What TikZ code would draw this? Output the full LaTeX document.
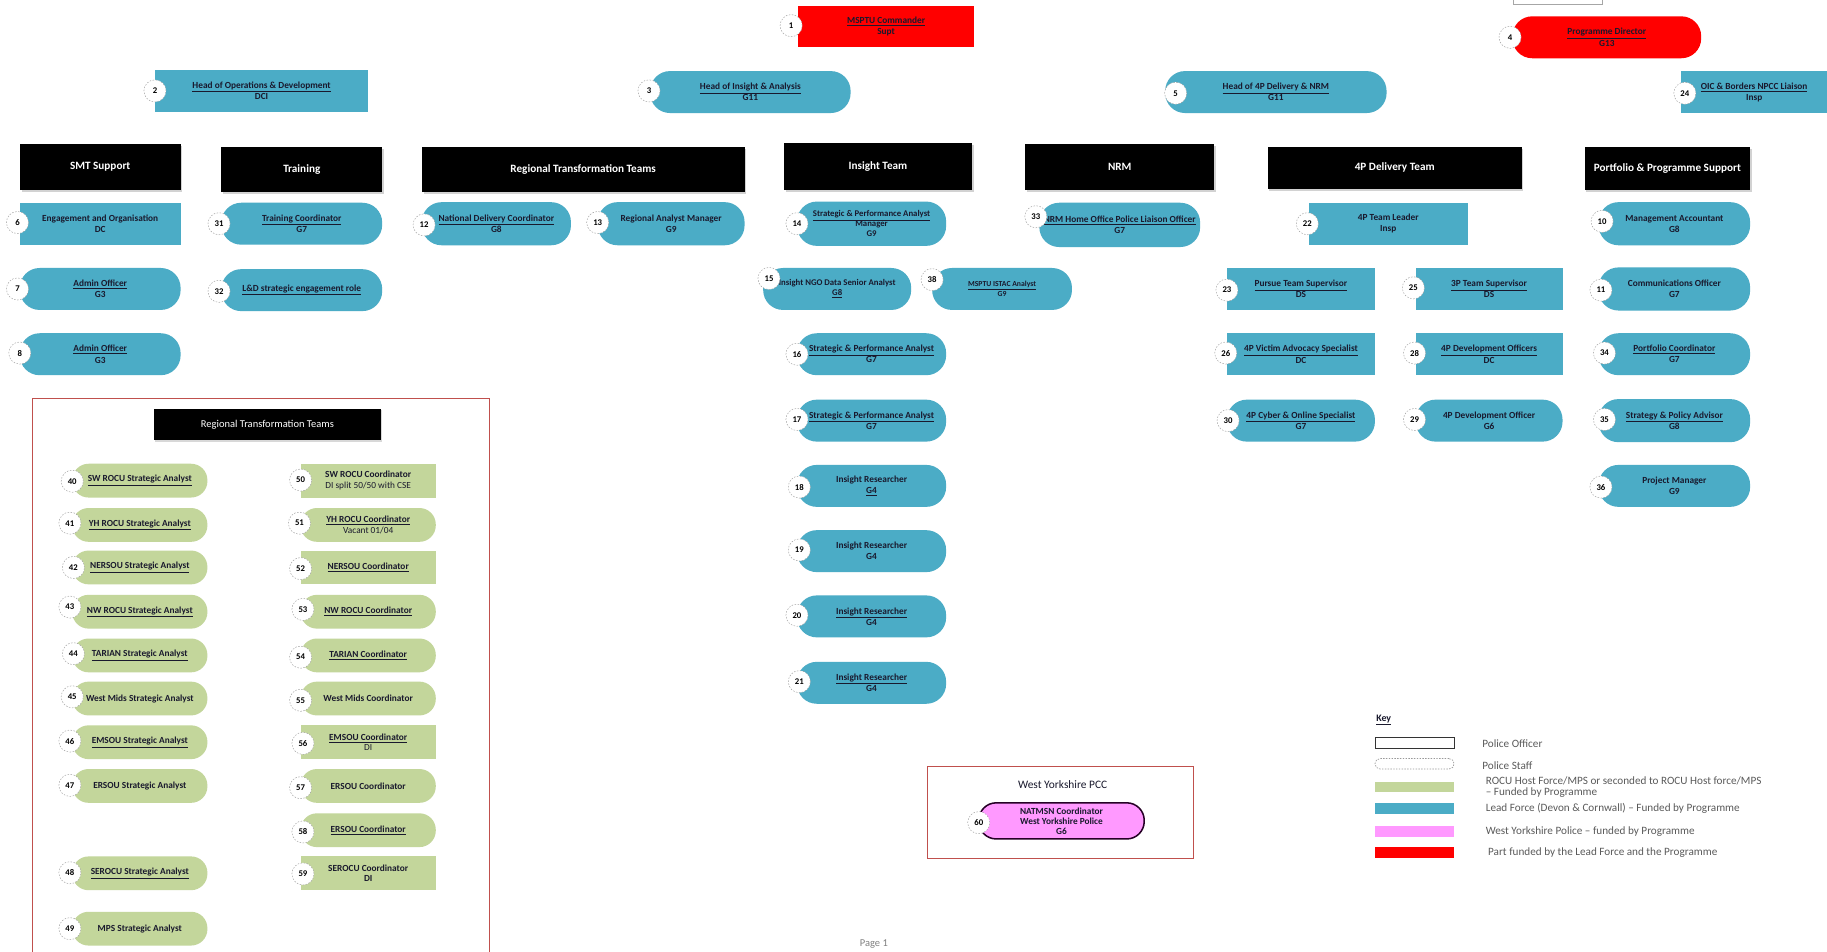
\documentclass[tikz,border=0pt]{standalone}
\usepackage{fontspec}
\setmainfont{Carlito}
\usetikzlibrary{shadows}
\definecolor{leadblue}{RGB}{75,172,198}
\definecolor{rocugreen}{RGB}{195,214,155}
\definecolor{wypink}{RGB}{255,153,255}
\definecolor{boxred}{RGB}{192,80,77}
\definecolor{ntxt}{RGB}{25,25,45}
\definecolor{keytxt}{RGB}{90,90,90}
\newcommand{\nfont}{\bfseries\fontsize{8}{9.5}\selectfont}
\newcommand{\sfontA}{\bfseries\fontsize{7.5}{8.5}\selectfont}
\newcommand{\sfontB}{\bfseries\fontsize{6.6}{8.5}\selectfont}
\newcommand{\gfont}{\bfseries\fontsize{8}{9}\selectfont}
\newcommand{\hfont}{\bfseries\fontsize{9.6}{11}\selectfont}
\newcommand{\numfont}{\bfseries\fontsize{7.5}{8}\selectfont}
\newcommand{\kfont}{\fontsize{9.6}{11}\selectfont}
\newcommand{\ul}[1]{\underline{#1}}
\begin{document}
\begin{tikzpicture}[x=1pt,y=-1pt,
  nd/.style={inner sep=1pt, align=center, text=ntxt, font=\nfont},
  sz/.style 2 args={minimum width=#1pt, minimum height=#2pt},
  po/.style={nd, rectangle},
  ps/.style={nd, rectangle, rounded corners=17pt},
  gpo/.style={nd, rectangle, font=\gfont, fill=rocugreen, minimum width=116pt, minimum height=29pt},
  gps/.style={gpo, rounded corners=14pt},
  lf/.style={fill=leadblue},
  pf/.style={fill=red},
  hdr/.style={rectangle, fill=black, text=white, font=\hfont, inner sep=1pt,
    drop shadow={shadow xshift=1.5pt, shadow yshift=-1.5pt, opacity=0.35}},
  num/.style={circle, fill=white, draw=gray!75, dash pattern=on 1.3pt off 1.3pt,
    minimum size=19pt, inner sep=0pt, font=\numfont, text=black},
  frame/.style={draw=boxred, line width=1.1pt},
  keybox/.style={minimum width=68pt, minimum height=9pt, inner sep=0pt},
  keylab/.style={anchor=west, font=\kfont, text=keytxt, inner sep=0pt, align=left}
]
\useasboundingbox (0,0) rectangle (1568,817);
\fill[white] (0,0) rectangle (1568,817);

% stray box at top edge
\draw[gray!70, line width=0.6pt] (1299,-10) rectangle (1375,4);

% ---------- top level ----------
\node[po, pf, sz={151}{35}] (n1) at (760.5,22.5) {\ul{MSPTU Commander}\\Supt};
\node[po, lf, sz={183}{36}] (n2) at (224.5,78) {\ul{Head of Operations \& Development}\\DCI};
\node[ps, lf, sz={172}{36}] (n3) at (644,79) {\ul{Head of Insight \& Analysis}\\G11};
\node[ps, pf, sz={162}{36}] (n4) at (1379,32) {\ul{Programme Director}\\G13};
\node[ps, lf, sz={190}{36}] (n5) at (1095,79) {\ul{Head of 4P Delivery \& NRM}\\G11};
\node[po, lf, sz={125}{36}] (n24) at (1505.5,79) {\ul{OIC \& Borders NPCC Liaison}\\Insp};

% ---------- headers ----------
\node[hdr, sz={138}{39}] (hSMT) at (86,143.5) {SMT Support};
\node[hdr, sz={138}{39}] (hTR) at (259,145.5) {Training};
\node[hdr, sz={277}{39}] (hRTT) at (500.5,145.5) {Regional Transformation Teams};
\node[hdr, sz={161}{40}] (hIT) at (753.5,143) {Insight Team};
\node[hdr, sz={162}{39}] (hNRM) at (961,143.5) {NRM};
\node[hdr, sz={218}{36}] (h4P) at (1197,144) {4P Delivery Team};
\node[hdr, sz={142}{37}] (hPP) at (1431,144.5) {Portfolio \& Programme Support};

% ---------- SMT support ----------
\node[po, lf, sz={138}{36}] (n6) at (86,192) {Engagement and Organisation\\DC};
\node[ps, lf, sz={138}{36}] (n7) at (86,248) {\ul{Admin Officer}\\G3};
\node[ps, lf, sz={138}{36}] (n8) at (86,304) {\ul{Admin Officer}\\G3};

% ---------- Training ----------
\node[ps, lf, sz={138}{36}] (n31) at (259,192) {\ul{Training Coordinator}\\G7};
\node[ps, lf, sz={138}{36}] (n32) at (259,249) {\ul{L\&D strategic engagement role}};

% ---------- Regional Transformation Teams ----------
\node[ps, lf, sz={128}{37}] (n12) at (426,192) {\ul{National Delivery Coordinator}\\G8};
\node[ps, lf, sz={126}{37}] (n13) at (576,192) {Regional Analyst Manager\\G9};

% ---------- Insight Team ----------
\node[ps, lf, sz={128}{38}, font=\sfontA] (n14) at (748,192) {\ul{Strategic \& Performance Analyst}\\Manager\\G9};
\node[ps, lf, sz={127}{36}, font=\sfontA] (n15) at (718.5,248) {Insight NGO Data Senior Analyst\\\ul{G8}};
\node[ps, lf, sz={120}{36}, font=\sfontB] (n38) at (860,248) {\ul{MSPTU ISTAC Analyst}\\G9};
\node[ps, lf, sz={128}{36}] (n16) at (748,304) {\ul{Strategic \& Performance Analyst}\\G7};
\node[ps, lf, sz={128}{36}] (n17) at (748,361) {\ul{Strategic \& Performance Analyst}\\G7};
\node[ps, lf, sz={128}{36}] (n18) at (748,417) {Insight Researcher\\\ul{G4}};
\node[ps, lf, sz={128}{36}] (n19) at (748,473) {Insight Researcher\\G4};
\node[ps, lf, sz={128}{36}] (n20) at (748,529) {\ul{Insight Researcher}\\G4};
\node[ps, lf, sz={128}{36}] (n21) at (748,586) {\ul{Insight Researcher}\\G4};

% ---------- NRM ----------
\node[ps, lf, sz={138}{38}] (n33) at (961,193) {\ul{NRM Home Office Police Liaison Officer}\\G7};

% ---------- 4P Delivery ----------
\node[po, lf, sz={137}{36}] (n22) at (1191.5,192) {4P Team Leader\\Insp};
\node[po, lf, sz={127}{36}] (n23) at (1116.5,248) {\ul{Pursue Team Supervisor}\\DS};
\node[po, lf, sz={126}{36}] (n25) at (1278,248) {\ul{3P Team Supervisor}\\DS};
\node[po, lf, sz={127}{36}] (n26) at (1116.5,304) {\ul{4P Victim Advocacy Specialist}\\DC};
\node[po, lf, sz={126}{36}] (n28) at (1278,304) {\ul{4P Development Officers}\\DC};
\node[ps, lf, sz={127}{36}] (n30) at (1116.5,361) {\ul{4P Cyber \& Online Specialist}\\G7};
\node[ps, lf, sz={126}{36}] (n29) at (1278,361) {4P Development Officer\\G6};

% ---------- Portfolio & Programme ----------
\node[ps, lf, sz={130}{37}] (n10) at (1437,192) {Management Accountant\\G8};
\node[ps, lf, sz={130}{37}] (n11) at (1437,248) {Communications Officer\\G7};
\node[ps, lf, sz={130}{36}] (n34) at (1437,304) {\ul{Portfolio Coordinator}\\G7};
\node[ps, lf, sz={130}{37}] (n35) at (1437,361) {\ul{Strategy \& Policy Advisor}\\G8};
\node[ps, lf, sz={130}{36}] (n36) at (1437,417) {Project Manager\\G9};

% ---------- regional box ----------
\draw[frame] (28,830) -- (28,342) -- (420,342) -- (420,830);
\node[rectangle, fill=black, text=white, font=\fontsize{9}{10}\selectfont,
  sz={195}{27}, inner sep=1pt,
  drop shadow={shadow xshift=1pt, shadow yshift=-1pt, opacity=0.3}] (hRTT2) at (229.5,364.5) {Regional Transformation Teams};

\node[gps] (n40) at (120,412.5) {\ul{SW ROCU Strategic Analyst}};
\node[gps] (n41) at (120,450.5) {\ul{YH ROCU Strategic Analyst}};
\node[gps] (n42) at (120,487) {\ul{NERSOU Strategic Analyst}};
\node[gps] (n43) at (120,525) {\ul{NW ROCU Strategic Analyst}};
\node[gps] (n44) at (120,562.5) {\ul{TARIAN Strategic Analyst}};
\node[gps] (n45) at (120,599.5) {West Mids Strategic Analyst};
\node[gps] (n46) at (120,637) {\ul{EMSOU Strategic Analyst}};
\node[gps] (n47) at (120,674.5) {ERSOU Strategic Analyst};
\node[gps] (n48) at (120,749.5) {\ul{SEROCU Strategic Analyst}};
\node[gps] (n49) at (120,797) {MPS Strategic Analyst};

\node[gpo] (n50) at (316,412.5) {SW ROCU Coordinator\\{\mdseries DI split 50/50 with CSE}};
\node[gps] (n51) at (316,450.5) {\ul{YH ROCU Coordinator}\\{\mdseries Vacant 01/04}};
\node[gpo] (n52) at (316,487) {\ul{NERSOU Coordinator}};
\node[gps] (n53) at (316,525) {\ul{NW ROCU Coordinator}};
\node[gps] (n54) at (316,562.5) {\ul{TARIAN Coordinator}};
\node[gps] (n55) at (316,599.5) {West Mids Coordinator};
\node[gpo] (n56) at (316,637) {\ul{EMSOU Coordinator}\\{\mdseries DI}};
\node[gps] (n57) at (316,674.5) {ERSOU Coordinator};
\node[gps] (n58) at (316,712.5) {\ul{ERSOU Coordinator}};
\node[gpo] (n59) at (316,749.5) {SEROCU Coordinator\\DI};

% ---------- West Yorkshire PCC ----------
\draw[frame] (796,658) rectangle (1024,737);
\node[font=\fontsize{9.8}{11}\selectfont, text=ntxt] (twy) at (912,673) {West Yorkshire PCC};
\node[nd, fill=wypink, draw=black!70!violet, line width=1.3pt, rounded corners=15pt,
  sz={142}{31}, font=\bfseries\fontsize{8}{8.6}\selectfont] (n60) at (911,704.5)
  {NATMSN Coordinator\\West Yorkshire Police\\G6};

% ---------- number circles ----------
\foreach \lab/\px/\py in {1/679/22, 2/133/78, 3/557/78, 4/1296/32, 5/1009/80, 24/1446/80,
  6/15/191, 7/15/248, 8/17/303, 31/188/192, 32/188/250, 12/364/193, 13/513/191,
  14/684/192, 15/660/239, 38/800/240, 16/684/304, 17/684/360, 18/686/418, 19/686/472,
  20/684/528, 21/686/585, 33/889/186, 22/1122/192, 23/1053/249, 25/1213/247,
  26/1052/303, 28/1214/303, 30/1054/361, 29/1214/360, 10/1375/190, 11/1374/249,
  34/1377/303, 35/1377/360, 36/1374/418,
  40/62/413, 41/60/449, 42/63/487, 43/60/521, 44/63/561, 45/62/598, 46/60/636,
  47/60/674, 48/60/749, 49/60/797,
  50/258/412, 51/257/449, 52/258/488, 53/260/523, 54/258/564, 55/258/601,
  56/260/638, 57/258/676, 58/260/714, 59/260/750, 60/840/706}
  {\node[num] (c\lab) at (\px,\py) {\lab};}

% ---------- key ----------
\node[anchor=west, font=\bfseries\fontsize{8.5}{10}\selectfont, text=ntxt, inner sep=0pt] (keyt) at (1181,618) {\ul{Key}};
\node[keybox, draw=black!80, line width=0.6pt] (k1) at (1214,637.5) {};
\node[keybox, draw=gray!80, dash pattern=on 1.2pt off 1.2pt, line width=0.6pt, rounded corners=4.5pt] (k2) at (1214,655.5) {};
\node[keybox, fill=rocugreen] (k3) at (1214,675.5) {};
\node[keybox, fill=leadblue] (k4) at (1214,694) {};
\node[keybox, fill=wypink] (k5) at (1214,713.5) {};
\node[keybox, fill=red] (k6) at (1214,731.5) {};
\node[keylab] (l1) at (1272,638) {Police Officer};
\node[keylab] (l2) at (1272,657) {Police Staff};
\node[keylab, font=\fontsize{9.6}{9.5}\selectfont] (l3) at (1275,675.5) {ROCU Host Force/MPS or seconded to ROCU Host force/MPS\\– Funded by Programme};
\node[keylab] (l4) at (1275,694) {Lead Force (Devon \& Cornwall) – Funded by Programme};
\node[keylab] (l5) at (1275,713.5) {West Yorkshire Police – funded by Programme};
\node[keylab] (l6) at (1277,732) {Part funded by the Lead Force and the Programme};

% ---------- page label ----------
\node[font=\fontsize{9}{10}\selectfont, text=gray] (pg) at (750,810) {Page 1};
\end{tikzpicture}
\end{document}
